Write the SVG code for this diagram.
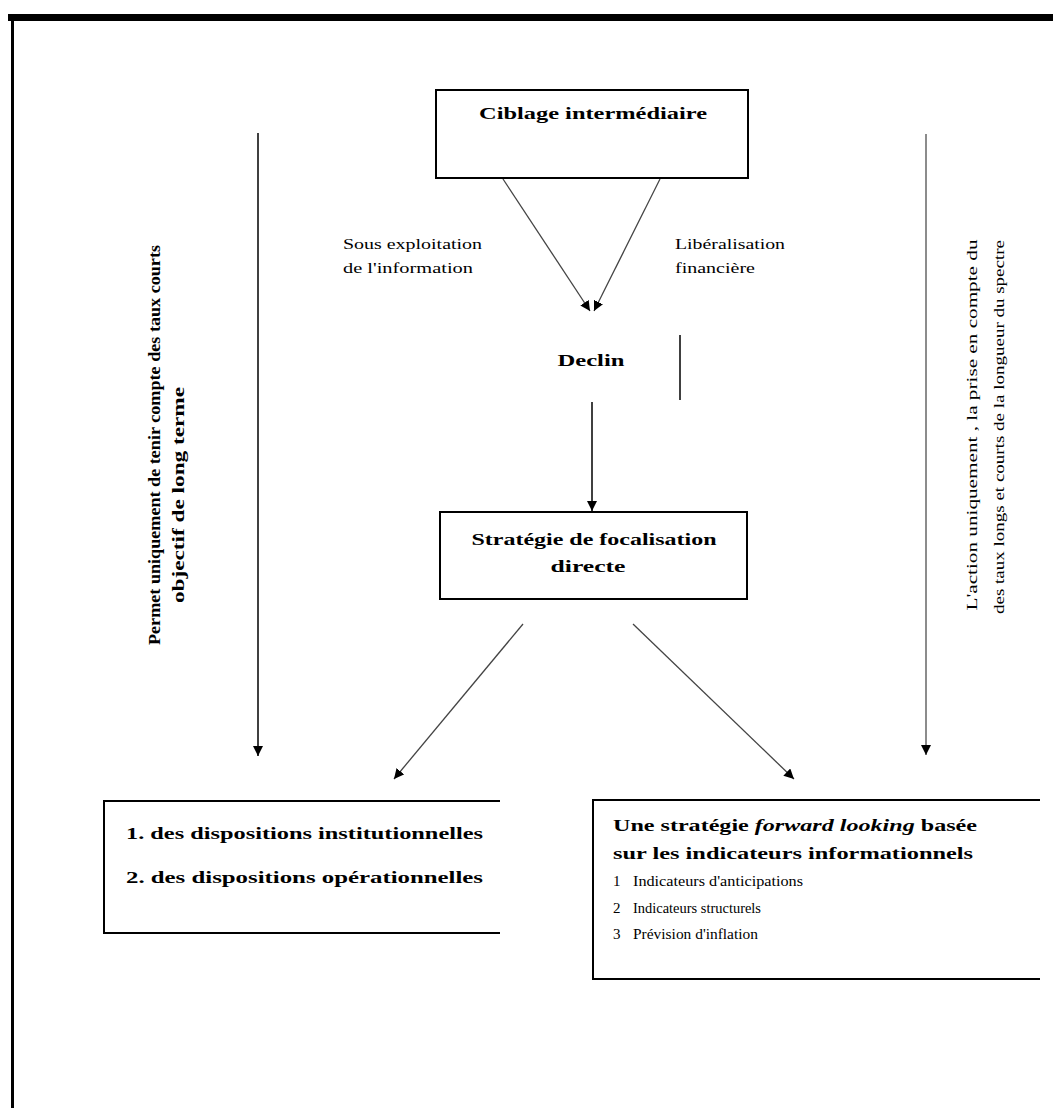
<svg xmlns="http://www.w3.org/2000/svg" width="1053" height="1108" viewBox="0 0 1053 1108">
<style>
text{font-family:"Liberation Serif","Times New Roman",serif;fill:#000}
.b{font-weight:bold;font-size:17px}
.n{font-size:15px}
.box{fill:#fff;stroke:#000;stroke-width:2}
.open{fill:none;stroke:#000;stroke-width:2}
.dg{stroke:#444;stroke-width:1.3;fill:none}
.vk{stroke:#000;stroke-width:1.5;fill:none}
.vg{stroke:#666;stroke-width:1.5;fill:none}
</style>
<defs>
<marker id="ah" viewBox="0 0 10 10" refX="10" refY="5" markerWidth="10" markerHeight="10" markerUnits="userSpaceOnUse" orient="auto">
<path d="M0,0 L10,5 L0,10 z" fill="#000"/>
</marker>
</defs>
<rect width="1053" height="1108" fill="#fff"/>
<g id="frame">
<rect x="8" y="14" width="1045" height="7" fill="#000"/>
<rect x="11" y="20" width="3" height="1088" fill="#000"/>
</g>
<g id="connectors">
<line class="dg" x1="503" y1="179" x2="590" y2="311" marker-end="url(#ah)"/>
<line class="dg" x1="660" y1="179" x2="594" y2="311" marker-end="url(#ah)"/>
<line class="vk" x1="680" y1="335" x2="680" y2="400"/>
<line class="vk" x1="592" y1="402" x2="592" y2="511" marker-end="url(#ah)"/>
<line class="vk" x1="258" y1="133" x2="258" y2="756" marker-end="url(#ah)"/>
<line class="vg" x1="926" y1="134" x2="926" y2="755" marker-end="url(#ah)"/>
<line class="dg" x1="523" y1="624" x2="394" y2="779" marker-end="url(#ah)"/>
<line class="dg" x1="633" y1="624" x2="794" y2="779" marker-end="url(#ah)"/>
</g>
<g id="ciblage">
<rect class="box" x="436" y="90" width="312" height="88"/>
<text class="b" x="593" y="119" text-anchor="middle" textLength="228" lengthAdjust="spacingAndGlyphs">Ciblage intermédiaire</text>
</g>
<g id="label-sous">
<text class="n" x="343" y="249" textLength="139" lengthAdjust="spacingAndGlyphs">Sous exploitation</text>
<text class="n" x="343" y="273" textLength="130" lengthAdjust="spacingAndGlyphs">de l'information</text>
</g>
<g id="label-lib">
<text class="n" x="675" y="249" textLength="110" lengthAdjust="spacingAndGlyphs">Libéralisation</text>
<text class="n" x="675" y="273" textLength="80" lengthAdjust="spacingAndGlyphs">financière</text>
</g>
<g id="declin">
<text class="b" x="591" y="366" text-anchor="middle" textLength="67" lengthAdjust="spacingAndGlyphs">Declin</text>
</g>
<g id="strategie">
<rect class="box" x="440" y="512" width="307" height="87"/>
<text class="b" x="594" y="545" text-anchor="middle" textLength="245" lengthAdjust="spacingAndGlyphs">Stratégie de focalisation</text>
<text class="b" x="588" y="572" text-anchor="middle" textLength="75" lengthAdjust="spacingAndGlyphs">directe</text>
</g>
<g id="left-note">
<text class="b" font-size="15" transform="translate(160,445) rotate(-90)" text-anchor="middle" textLength="400" lengthAdjust="spacingAndGlyphs">Permet uniquement de tenir compte des taux courts</text>
<text class="b" font-size="15" transform="translate(184,495) rotate(-90)" text-anchor="middle" textLength="216" lengthAdjust="spacingAndGlyphs">objectif de long terme</text>
</g>
<g id="right-note">
<text class="n" transform="translate(977,425) rotate(-90)" text-anchor="middle" textLength="371" lengthAdjust="spacingAndGlyphs">L'action uniquement , la prise en compte du</text>
<text class="n" transform="translate(1004,427) rotate(-90)" text-anchor="middle" textLength="374" lengthAdjust="spacingAndGlyphs">des taux longs et courts de la longueur du spectre</text>
</g>
<g id="dispositions">
<polyline class="open" points="500,801 104,801 104,933 500,933"/>
<text class="b" x="126" y="839" textLength="357" lengthAdjust="spacingAndGlyphs">1. des dispositions institutionnelles</text>
<text class="b" x="126" y="883" textLength="357" lengthAdjust="spacingAndGlyphs">2. des dispositions opérationnelles</text>
</g>
<g id="forward">
<polyline class="open" points="1040,800 593,800 593,979 1040,979"/>
<text class="b" x="613" y="831" textLength="364" lengthAdjust="spacingAndGlyphs">Une stratégie <tspan font-style="italic">forward looking</tspan> basée</text>
<text class="b" x="613" y="859" textLength="360" lengthAdjust="spacingAndGlyphs">sur les indicateurs informationnels</text>
<text class="n" x="613" y="886">1</text>
<text class="n" x="633" y="886" textLength="170" lengthAdjust="spacingAndGlyphs">Indicateurs d'anticipations</text>
<text class="n" x="613" y="913">2</text>
<text class="n" x="633" y="913" textLength="128" lengthAdjust="spacingAndGlyphs">Indicateurs structurels</text>
<text class="n" x="613" y="939">3</text>
<text class="n" x="633" y="939" textLength="125" lengthAdjust="spacingAndGlyphs">Prévision d'inflation</text>
</g>
</svg>
